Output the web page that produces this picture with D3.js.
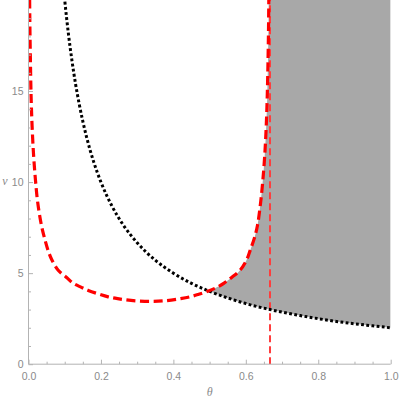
<!DOCTYPE html>
<html><head><meta charset="utf-8">
<script src="https://cdn.jsdelivr.net/npm/d3@7"></script>
<style>
html,body{margin:0;padding:0;background:#fff;}
svg{display:block;}
.tick text{font-family:"Liberation Sans",Arial,sans-serif;font-size:10.5px;fill:#8a8a8a;}
</style></head>
<body>
<svg id="chart" width="399" height="400"></svg>
<script>
// ---- data ----
const xTicks = [0, 0.2, 0.4, 0.6, 0.8, 1.0];
const xTickLabels = ["0.0", "0.2", "0.4", "0.6", "0.8", "1.0"];
const xMinor = [0.05,0.1,0.15,0.25,0.3,0.35,0.45,0.5,0.55,0.65,0.7,0.75,0.85,0.9,0.95];
const yTicks = [0, 5, 10, 15];
const yMinor = [1,2,3,4,6,7,8,9,11,12,13,14,16,17,18,19];
// black dotted curve (theta, v)
const blackTheta = [0.095,0.1,0.11,0.12,0.13,0.14,0.16,0.18,0.2,0.23,0.26,0.3,0.35,0.4,0.45,0.5,0.55,0.6,0.667,0.7,0.75,0.8,0.85,0.9,0.95,1.0];
const blackV     = [21.05,20,18.18,16.67,15.38,14.29,12.5,11.11,10,8.7,7.69,6.67,5.71,5.0,4.44,4.0,3.64,3.33,3.0,2.86,2.67,2.5,2.35,2.22,2.11,2.0];
// red dashed curve, left branch and right branch (theta, v)
const redLeftTheta = [0.0021,0.0036,0.0051,0.0073,0.0103,0.0143,0.0193,0.0253,0.036,0.047,0.054,0.064,0.082,0.106,0.123,0.146,0.165,0.196,0.22,0.246,0.283,0.3333];
const redLeftV     = [23,19,16.9,14.6,12.9,11.4,10.1,8.9,7.6,6.72,6.25,5.75,5.16,4.75,4.45,4.22,4.05,3.84,3.70,3.6,3.5,3.45];
const redRightTheta = [0.38,0.42,0.446,0.47,0.497,0.52,0.54,0.56,0.584,0.602,0.612,0.624,0.632,0.641,0.647,0.652,0.656,0.659,0.6615,0.663,0.6645];
const redRightV     = [3.49,3.6,3.7,3.84,4.02,4.22,4.45,4.75,5.16,5.72,6.25,6.95,7.6,8.9,10.1,11.4,12.9,14.6,16.9,19.0,23];
const thetaStar = 0.6667; // vertical dashed line
const vTop = 20;

// ---- layout ----
const svg = d3.select("#chart");
const x = d3.scaleLinear().domain([0,1]).range([28.5,390.7]);
const y = d3.scaleLinear().domain([0,vTop]).range([364.2,0]);

const defs = svg.append("defs");
defs.append("clipPath").attr("id","plotClip").append("rect")
  .attr("x",x(0)).attr("y",y(vTop)).attr("width",x(1)-x(0)).attr("height",y(0)-y(vTop));

const black = blackTheta.map((t,i)=>[t,blackV[i]]);
const redL = redLeftTheta.map((t,i)=>[t,redLeftV[i]]);
const redR = redRightTheta.map((t,i)=>[t,redRightV[i]]);
const red = redL.concat(redR);
const redCurve = d3.curveCatmullRom.alpha(0.5);

// region above the black curve
defs.append("clipPath").attr("id","aboveBlack").append("path")
  .attr("d", d3.area().x(d=>x(d[0])).y0(y(30)).y1(d=>y(d[1])).curve(d3.curveMonotoneX)(black));

// ---- shaded region ----
const gPlot = svg.append("g").attr("clip-path","url(#plotClip)");
const gFill = gPlot.append("g").attr("clip-path","url(#aboveBlack)");
const fillCol = "#a8a8a8";
const rightPart = redR.filter(d=>d[0]>=0.446);
gFill.append("path")
  .attr("d", d3.area().x(d=>x(d[0])).y0(y(0)).y1(d=>y(d[1])).curve(d3.curveMonotoneX)(rightPart))
  .attr("fill",fillCol);
const lastR = rightPart[rightPart.length-1][0];
gFill.append("rect")
  .attr("x",x(lastR)-0.3).attr("y",y(30)).attr("width",x(1)-x(lastR)+0.3).attr("height",y(0)-y(30))
  .attr("fill",fillCol);

// ---- axes ----
const axisCol = "#b3b3b3";
const xMinAxis = svg.append("g").attr("transform",`translate(0,${y(0)})`)
  .call(d3.axisBottom(x).tickValues(xMinor).tickSize(-2.5).tickFormat(""));
const xAxis = svg.append("g").attr("transform",`translate(0,${y(0)})`)
  .call(d3.axisBottom(x).tickValues(xTicks).tickSize(-4.5).tickPadding(8)
    .tickFormat((d,i)=>xTickLabels[i]));
const yMinAxis = svg.append("g").attr("transform",`translate(${x(0)},0)`)
  .call(d3.axisLeft(y).tickValues(yMinor).tickSize(-2.5).tickFormat(""));
const yAxis = svg.append("g").attr("transform",`translate(${x(0)},0)`)
  .call(d3.axisLeft(y).tickValues(yTicks).tickSize(-4.5).tickPadding(5).tickFormat(d3.format("d")));
[xMinAxis,xAxis,yMinAxis,yAxis].forEach(g=>{
  g.selectAll("path.domain").attr("stroke",axisCol).attr("stroke-width",1);
  g.selectAll(".tick line").attr("stroke",axisCol).attr("stroke-width",1);
});
xMinAxis.select("path.domain").remove();
yMinAxis.select("path.domain").remove();
xAxis.select("path.domain").attr("d",`M${x(0)},0H${x(1)}`);
yAxis.select("path.domain").attr("d",`M0,${y(0)}V${y(vTop)}`);

// axis labels
svg.append("text").attr("x",x(0.5)).attr("y",396).attr("text-anchor","middle")
  .attr("font-family","'Liberation Serif','DejaVu Serif',serif").attr("font-style","italic")
  .attr("font-size",12).attr("fill","#8a8a8a").text("θ");
svg.append("text").attr("x",5).attr("y",y(10)+3).attr("text-anchor","middle")
  .attr("font-family","'Liberation Serif','DejaVu Serif',serif").attr("font-style","italic")
  .attr("font-size",12).attr("fill","#8a8a8a").text("v");

// ---- curves ----
const line = d3.line().x(d=>x(d[0])).y(d=>y(d[1])).curve(d3.curveMonotoneX);
const redLine = d3.line().x(d=>x(d[0])).y(d=>y(d[1])).curve(redCurve);

// vertical dashed line
gPlot.append("line")
  .attr("x1",x(thetaStar)).attr("x2",x(thetaStar)).attr("y1",y(0)).attr("y2",y(vTop))
  .attr("stroke","#ff3d3d").attr("stroke-width",2).attr("stroke-dasharray","7,4");

gPlot.append("path").attr("d",line(black)).attr("fill","none")
  .attr("stroke","#000").attr("stroke-width",3).attr("stroke-dasharray","2.8,2.4");

gPlot.append("path").attr("d",redLine(red)).attr("fill","none")
  .attr("stroke","#ff0000").attr("stroke-width",3.2).attr("stroke-dasharray","9,4.5");
</script>
</body></html>
